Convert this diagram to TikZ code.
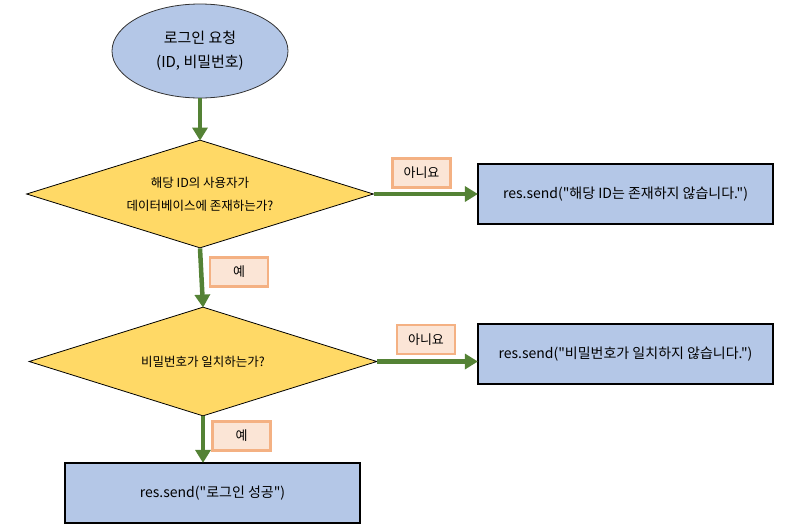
\documentclass[tikz,border=0pt]{standalone}
\usepackage{fontspec}
\setmainfont{Noto Sans CJK KR}[Ligatures=TeXOff]
\usetikzlibrary{shapes.geometric,arrows.meta}
\definecolor{blueF}{HTML}{B4C7E7}
\definecolor{yelF}{HTML}{FFD966}
\definecolor{grn}{HTML}{548235}
\definecolor{lblF}{HTML}{FBE5D6}
\definecolor{lblD}{HTML}{F4B183}
\tikzset{
  startnode/.style={ellipse, draw=black!80, line width=0.8pt, fill=blueF, minimum width=176pt, minimum height=94pt, inner sep=0pt, align=center, font=\fontsize{15}{24}\selectfont},
  decide/.style={diamond, aspect=3.2, draw=black, line width=0.8pt, fill=yelF, inner sep=0pt, align=center, font=\fontsize{12.5}{23}\selectfont},
  outbox/.style={rectangle, draw=black, line width=2.2pt, fill=blueF, minimum width=295pt, minimum height=60pt, inner sep=0pt, font=\fontsize{14}{16}\selectfont},
  lbl/.style={rectangle, draw=lblD, line width=2.8pt, fill=lblF, minimum width=58pt, minimum height=29pt, inner sep=0pt, font=\fontsize{13}{15}\selectfont},
  flow/.style={draw=grn, line width=4.5pt, -{Triangle[length=13pt,width=15pt]}, shorten >=-1pt},
}
\begin{document}
\begin{tikzpicture}[x=1pt,y=-1pt]
\useasboundingbox (0,0) rectangle (805,528);
\node[startnode] (start) at (200,51) {로그인 요청\\(ID, 비밀번호)};
\node[decide, minimum width=347pt, minimum height=108pt] (d1) at (200,194) {해당 ID의 사용자가\\데이터베이스에 존재하는가?};
\node[decide, minimum width=348pt, minimum height=109pt] (d2) at (203,361.5) {비밀번호가 일치하는가?};
\node[outbox] (b1) at (625.5,194) {res.send("해당 ID는 존재하지 않습니다.")};
\node[outbox] (b2) at (625.5,354) {res.send("비밀번호가 일치하지 않습니다.")};
\node[outbox] (b3) at (212.5,493) {res.send("로그인 성공")};
\node[lbl] (n1) at (421.5,173) {아니요};
\node[lbl] (n2) at (426,339.5) {아니요};
\node[lbl] (y1) at (239,272) {예};
\node[lbl] (y2) at (241.5,436) {예};
\draw[flow] (start.south) -- (d1.north);
\draw[flow] (d1.east) -- (b1.west);
\draw[flow] (d1.south) -- (d2.north);
\draw[flow] (d2.east) -- (b2.west |- d2.east);
\draw[flow] (d2.south) -- (d2.south |- b3.north);
\end{tikzpicture}
\end{document}
